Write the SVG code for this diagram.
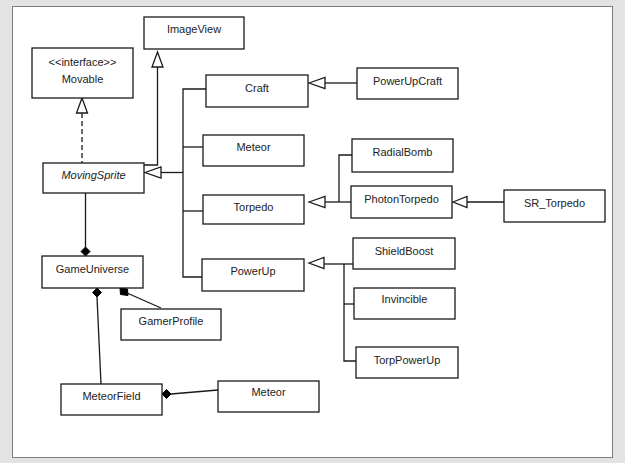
<svg xmlns="http://www.w3.org/2000/svg" width="625" height="463" viewBox="0 0 625 463">
<defs>
<style>
.box{fill:#fff;stroke:#1a1a1a;stroke-width:1.3}
.t{font-family:"Liberation Sans",Arial,sans-serif;font-size:11px;fill:#222;text-anchor:middle}
.c{fill:none;stroke:#1a1a1a;stroke-width:1.3}
.tri{fill:#fff;stroke:#1a1a1a;stroke-width:1.3}
.dia{fill:#000;stroke:#000;stroke-width:1}
</style>
</defs>
<rect x="0" y="0" width="625" height="463" fill="#e3e3e3"/>
<rect x="12.5" y="6.5" width="600" height="451" fill="#fff" stroke="#7a7f87" stroke-width="1"/>
<g id="connectors">
<!-- Movable realization -->
<line class="c" x1="82" y1="113" x2="82" y2="163" stroke-dasharray="5,3"/>
<polygon class="tri" points="82,98 76.5,113 87.5,113"/>
<!-- ImageView inheritance -->
<polyline class="c" points="144,165 157.5,165 157.5,67"/>
<polygon class="tri" points="157.5,52 152,67 163,67"/>
<!-- children of MovingSprite -->
<polygon class="tri" points="145,172.5 161,167 161,178"/>
<line class="c" x1="161" y1="172.5" x2="183" y2="172.5"/>
<polyline class="c" points="206,89 183,89 183,277 202,277"/>
<line class="c" x1="183" y1="147" x2="203" y2="147"/>
<line class="c" x1="183" y1="211" x2="203" y2="211"/>
<!-- PowerUpCraft -> Craft -->
<polygon class="tri" points="309,83 325,77.5 325,88.5"/>
<line class="c" x1="325" y1="83" x2="357" y2="83"/>
<!-- Torpedo children -->
<polygon class="tri" points="309,202 325,196.5 325,207.5"/>
<line class="c" x1="325" y1="202" x2="351" y2="202"/>
<polyline class="c" points="352,155 339,155 339,202"/>
<!-- SR_Torpedo -> PhotonTorpedo -->
<polygon class="tri" points="453,202 467,196.5 467,207.5"/>
<line class="c" x1="467" y1="202" x2="504" y2="202"/>
<!-- PowerUp children -->
<polygon class="tri" points="309,263 324,257.5 324,268.5"/>
<line class="c" x1="324" y1="264" x2="353" y2="264"/>
<polyline class="c" points="344,264 344,361 356,361"/>
<line class="c" x1="344" y1="304" x2="354" y2="304"/>
<!-- MovingSprite - GameUniverse composition -->
<line class="c" x1="85.5" y1="193" x2="85.5" y2="247"/>
<polygon class="dia" points="85.5,247 90,251.5 85.5,256 81,251.5"/>
<!-- GameUniverse - MeteorField -->
<line class="c" x1="97" y1="297" x2="101" y2="384"/>
<polygon class="dia" points="97,288 101.5,292.5 97,297 92.5,292.5"/>
<!-- GameUniverse - GamerProfile -->
<line class="c" x1="127" y1="293" x2="161" y2="308"/>
<polygon class="dia" points="120,288 127.5,289 128,295.5 120.5,294.5"/>
<!-- MeteorField - Meteor -->
<line class="c" x1="171" y1="394" x2="218" y2="390"/>
<polygon class="dia" points="162,394 166.5,389.5 171,394 166.5,398.5"/>
</g>
<g id="ImageView"><rect class="box" x="144" y="17" width="100" height="32"/><text class="t" x="194" y="33">ImageView</text></g>
<g id="Movable"><rect class="box" x="32" y="48" width="101" height="50"/><text class="t" x="82.5" y="66">&lt;&lt;interface&gt;&gt;</text><text class="t" x="82.5" y="83">Movable</text></g>
<g id="MovingSprite"><rect class="box" x="43" y="163" width="101" height="30"/><text class="t" x="93.5" y="179" font-style="italic">MovingSprite</text></g>
<g id="Craft"><rect class="box" x="206" y="75" width="102" height="32"/><text class="t" x="257" y="92">Craft</text></g>
<g id="Meteor1"><rect class="box" x="203" y="135" width="101" height="31"/><text class="t" x="253.5" y="151">Meteor</text></g>
<g id="Torpedo"><rect class="box" x="203" y="195" width="101" height="29"/><text class="t" x="253.5" y="211">Torpedo</text></g>
<g id="PowerUpCraft"><rect class="box" x="357" y="68" width="101" height="31"/><text class="t" x="407.5" y="85">PowerUpCraft</text></g>
<g id="RadialBomb"><rect class="box" x="352" y="139" width="101" height="33"/><text class="t" x="402.5" y="156">RadialBomb</text></g>
<g id="PhotonTorpedo"><rect class="box" x="351" y="186" width="101" height="32"/><text class="t" x="401.5" y="203">PhotonTorpedo</text></g>
<g id="SR_Torpedo"><rect class="box" x="504" y="190" width="101" height="32"/><text class="t" x="554.5" y="207">SR_Torpedo</text></g>
<g id="GameUniverse"><rect class="box" x="42" y="256" width="101" height="32"/><text class="t" x="92.5" y="273">GameUniverse</text></g>
<g id="PowerUp"><rect class="box" x="202" y="259" width="102" height="32"/><text class="t" x="253" y="275">PowerUp</text></g>
<g id="GamerProfile"><rect class="box" x="121" y="309" width="100" height="31"/><text class="t" x="171" y="325">GamerProfile</text></g>
<g id="MeteorField"><rect class="box" x="61" y="384" width="101" height="31"/><text class="t" x="111.5" y="400">MeteorField</text></g>
<g id="Meteor2"><rect class="box" x="218" y="381" width="101" height="31"/><text class="t" x="268.5" y="396">Meteor</text></g>
<g id="ShieldBoost"><rect class="box" x="353" y="238" width="102" height="31"/><text class="t" x="404" y="255">ShieldBoost</text></g>
<g id="Invincible"><rect class="box" x="354" y="288" width="101" height="31"/><text class="t" x="404.5" y="303">Invincible</text></g>
<g id="TorpPowerUp"><rect class="box" x="356" y="347" width="102" height="31"/><text class="t" x="407" y="364">TorpPowerUp</text></g>
</svg>
